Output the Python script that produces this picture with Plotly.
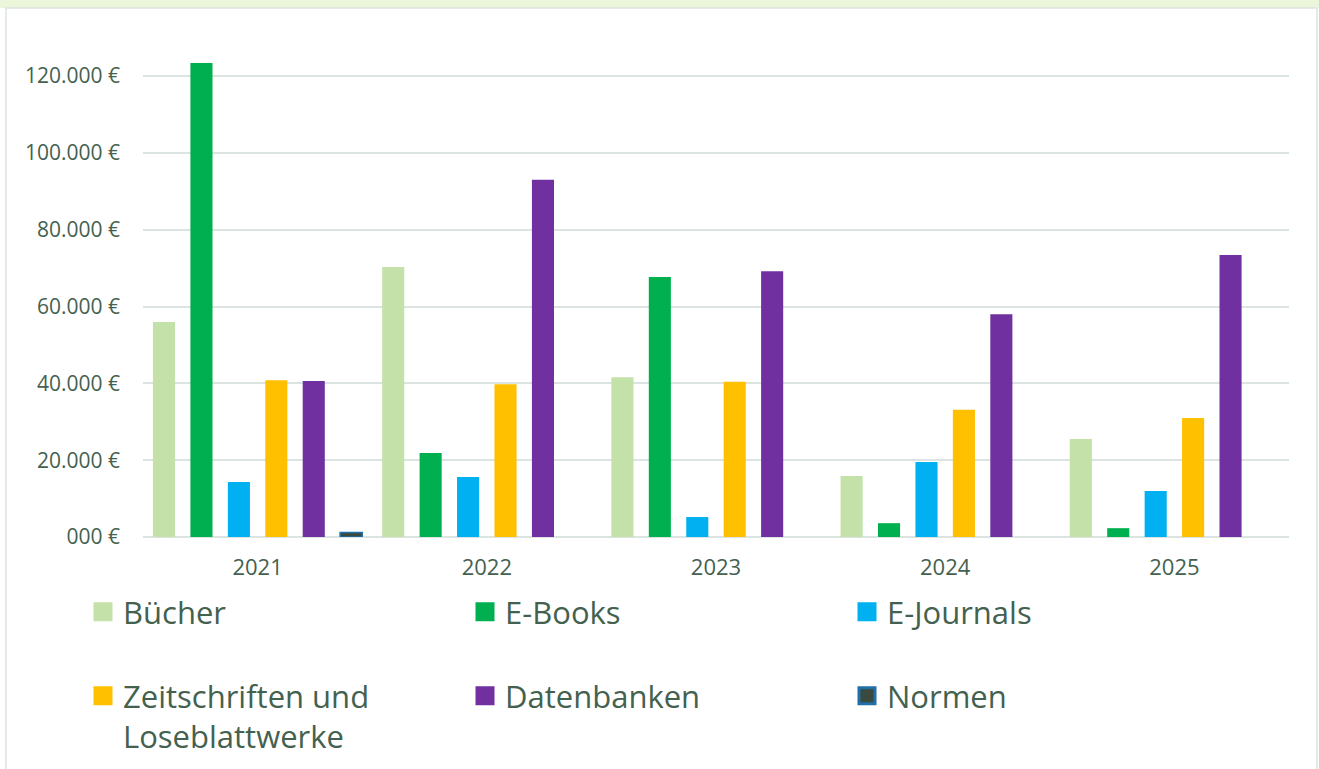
import plotly.graph_objects as go

years = ["2021", "2022", "2023", "2024", "2025"]
series_names = ["Bücher", "E-Books", "E-Journals",
                "Zeitschriften und<br>Loseblattwerke", "Datenbanken", "Normen"]
buecher = [56000, 70300, 41600, 15900, 25500]
ebooks = [123400, 21900, 67700, 3600, 2300]
ejournals = [14300, 15600, 5200, 19500, 12000]
zeitschriften = [40800, 39800, 40400, 33100, 31000]
datenbanken = [40600, 93000, 69200, 58000, 73400]
normen = [1200, 0, 0, 0, 0]
values = [buecher, ebooks, ejournals, zeitschriften, datenbanken, normen]

tick_vals = [0, 20000, 40000, 60000, 80000, 100000, 120000]
tick_text = ["000 €", "20.000 €", "40.000 €", "60.000 €", "80.000 €", "100.000 €", "120.000 €"]

colors = ["#C3E1A9", "#00B050", "#00B0F0", "#FFC000", "#7030A0", "#3B4A3F"]
line_colors = [None, None, None, None, None, "#1F6FA8"]
legend_ids = ["legend", "legend", "legend", "legend2", "legend2", "legend2"]

W, H = 1319, 769
L, R, T, B = 143, 30, 30, 232
PW, PH = W - L - R, H - T - B
TEXT = "#44614F"
FONT = "Open Sans"

def px_x(px):
    return (px - L) / PW

def px_y(py):
    return (H - B - py) / PH

fig = go.Figure()
for name, vals, col, lc in zip(series_names, values, colors, line_colors):
    widths = [1.5 if (lc and v > 0) else 0 for v in vals]
    fig.add_trace(go.Bar(
        x=years, y=vals, name=name, showlegend=False,
        marker=dict(color=col, line=dict(color=lc if lc else col, width=widths)),
    ))
for name, col, lc, lg in zip(series_names, colors, line_colors, legend_ids):
    fig.add_trace(go.Scatter(
        x=[None], y=[None], mode="markers", name=name, legend=lg,
        marker=dict(symbol="square", size=16, color=col,
                    line=dict(color=lc if lc else col, width=3)),
    ))

fig.update_layout(
    width=W, height=H, autosize=False,
    margin=dict(l=L, r=R, t=T, b=B, autoexpand=False),
    paper_bgcolor="white", plot_bgcolor="white",
    barmode="group", bargap=0.02, bargroupgap=0.41,
    font=dict(family=FONT, color=TEXT),
    xaxis=dict(type="category", showgrid=False, showline=False, ticks="",
               tickfont=dict(size=22, color=TEXT), ticklabelstandoff=15),
    yaxis=dict(range=[0, 132000], tickvals=tick_vals, ticktext=tick_text,
               showgrid=True, gridcolor="#DCE4E2", gridwidth=1.5,
               zeroline=True, zerolinecolor="#DCE4E2", zerolinewidth=1.5,
               showline=False, ticks="", tickfont=dict(size=21, color=TEXT),
               ticklabelstandoff=22),
    legend=dict(orientation="h", entrywidth=337, entrywidthmode="pixels",
                x=px_x(83), xanchor="left", y=px_y(612), yanchor="middle",
                font=dict(size=31, color=TEXT), bgcolor="rgba(0,0,0,0)",
                itemclick=False),
    legend2=dict(orientation="h", entrywidth=337, entrywidthmode="pixels",
                 x=px_x(83), xanchor="left", y=px_y(763), yanchor="bottom",
                 valign="top",
                 font=dict(size=31, color=TEXT), bgcolor="rgba(0,0,0,0)",
                 itemclick=False),
    shapes=[
        dict(type="rect", xref="paper", yref="paper",
             x0=px_x(0), x1=px_x(W), y0=px_y(8), y1=px_y(0),
             fillcolor="#EAF5DA", line=dict(width=0), layer="below"),
        dict(type="rect", xref="paper", yref="paper",
             x0=px_x(6), x1=px_x(1317), y0=px_y(H + 5), y1=px_y(8),
             fillcolor="rgba(0,0,0,0)", line=dict(color="#DCE3E0", width=1.5),
             layer="below"),
    ],
)

fig.write_html("out.html",
               config={"displayModeBar": False, "responsive": False},
               post_script="document.body.style.margin='0';document.body.style.overflow='hidden';")
